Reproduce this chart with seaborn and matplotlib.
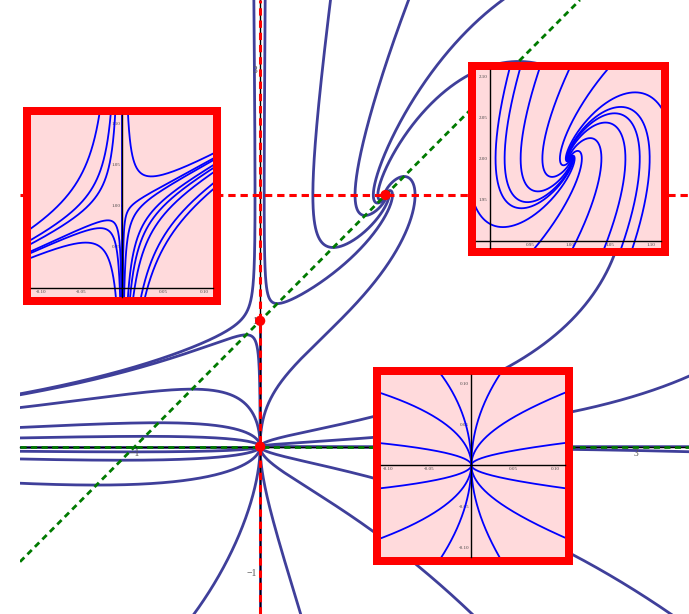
import numpy as np
import pandas as pd
import matplotlib
matplotlib.use("Agg")
import matplotlib.pyplot as plt
from matplotlib.ticker import MultipleLocator
import seaborn as sns

# phase portrait of  x' = x (y - 2),  y' = y (y - x - 1)
crit_x = [0.0, 0.0, 1.0]
crit_y = [0.0, 1.0, 2.0]

# seed points (a point on each drawn orbit)
main_seed_x = [-0.112, -0.543, -0.81, -0.918, -1.91, -1.91, -1.91,
               3.41, 3.41, 2.58, 0.64,
               -0.52, 0.32, 1.68, 3.26,
               -0.05, 0.04, 0.56, 1.18, 1.92,
               0.0, 0.0, -1.0, 2.0]
main_seed_y = [0.889, 0.457, 0.19, 0.082, -0.037, -0.098, -0.291,
               0.556, -0.04, 1.113, 1.008,
               -1.32, -1.32, -1.32, -1.32,
               3.54, 3.54, 3.54, 3.54, 3.54,
               0.5, -0.6, 0.0, 0.0]

saddle_seed_x = [-0.111, -0.111, -0.111, -0.111, -0.111, -0.111,
                 0.110, 0.110, 0.110, 0.110, 0.110,
                 0.0095, 0.0135, 0.028, 0.0, 0.0]
saddle_seed_y = [0.973, 0.959, 0.954, 0.945, 0.943, 0.937,
                 1.0626, 1.0565, 1.0544, 1.0483, 1.026,
                 0.890, 0.890, 0.890, 0.95, 1.05]

spiral_seed_x = [0.924, 0.937, 0.961, 0.998, 1.045, 0.884, 1.112,
                 0.957, 1.004, 1.043, 1.064, 1.078]
spiral_seed_y = [2.107, 2.107, 2.107, 2.107, 2.107, 1.938, 2.064,
                 1.892, 1.892, 1.892, 1.892, 1.892]

node_seed_x = [-0.107, -0.107, -0.107, -0.107, 0.111, 0.111, 0.111, 0.111,
               -0.035, 0.033, -0.035, 0.033]
node_seed_y = [0.0875, 0.0267, -0.028, -0.0887, 0.088, 0.027, -0.028, -0.088,
               0.109, 0.109, -0.111, -0.111]


def field(x, y):
    return x * (y - 2.0), y * (y - x - 1.0)


def trace(x0, y0, box, ds, nmax=6000):
    halves = []
    for sgn in (1.0, -1.0):
        def f(x, y):
            u, v = field(x, y)
            n = (u * u + v * v) ** 0.5
            if n < 1e-14:
                return 0.0, 0.0
            return sgn * u / n, sgn * v / n
        x, y = x0, y0
        pts = [(x, y)]
        for _ in range(nmax):
            a1, b1 = f(x, y)
            a2, b2 = f(x + ds / 2 * a1, y + ds / 2 * b1)
            a3, b3 = f(x + ds / 2 * a2, y + ds / 2 * b2)
            a4, b4 = f(x + ds * a3, y + ds * b3)
            x += ds / 6 * (a1 + 2 * a2 + 2 * a3 + a4)
            y += ds / 6 * (b1 + 2 * b2 + 2 * b3 + b4)
            pts.append((x, y))
            if not (box[0] <= x <= box[1] and box[2] <= y <= box[3]):
                break
            if min(abs(x - cx) + abs(y - cy) for cx, cy in zip(crit_x, crit_y)) < ds:
                break
        halves.append(pts)
    return halves[1][::-1] + halves[0][1:]


def orbits(xs, ys, box, ds):
    frames = []
    for i, (x0, y0) in enumerate(zip(xs, ys)):
        p = np.array(trace(x0, y0, box, ds))
        frames.append(pd.DataFrame({"x": p[:, 0], "y": p[:, 1], "k": i}))
    return pd.concat(frames, ignore_index=True)


sns.set_style("white")
plt.rcParams["font.family"] = ["Liberation Serif", "DejaVu Serif"]

W, H = 689, 614
fig = plt.figure(figsize=(W / 100, H / 100), dpi=100)


def fig_rect(x0, y0, x1, y1):
    return [x0 / W, 1 - y1 / H, (x1 - x0) / W, (y1 - y0) / H]


# ---- main phase portrait
ax = fig.add_axes(fig_rect(20, 0, 689, 614))
ax.set_zorder(0)
ax.set_axisbelow(False)
xlim = (-1.915, 3.42)
ylim = (-1.33, 3.55)
df = orbits(main_seed_x, main_seed_y, (xlim[0] - 0.1, xlim[1] + 0.1, ylim[0] - 0.1, ylim[1] + 0.1), 0.003)
sns.lineplot(data=df, x="x", y="y", units="k", estimator=None, sort=False,
             color="#3f3f9a", lw=2.0, ax=ax, legend=False, zorder=1.5)
ax.axvline(0, color="red", lw=2.2, ls=(0, (2.4, 1.6)), zorder=3)
ax.axhline(2, color="red", lw=2.2, ls=(0, (2.4, 1.6)), zorder=3)
ax.axhline(0, color="#007a00", lw=2.0, ls=(0, (2.2, 1.6)), zorder=3)
ax.axline((0, 1), slope=1, color="#007a00", lw=2.0, ls=(0, (2.2, 1.6)), zorder=3)
sns.scatterplot(x=crit_x, y=crit_y, color="red", s=55, edgecolor="none", ax=ax, zorder=4)

ax.set_xlim(xlim)
ax.set_ylim(ylim)
ax.set_xlabel("")
ax.set_ylabel("")
for s in ("top", "right"):
    ax.spines[s].set_visible(False)
for s in ("left", "bottom"):
    ax.spines[s].set_position("zero")
    ax.spines[s].set_color("black")
    ax.spines[s].set_linewidth(1.0)
ax.set_xticks([-1, 1, 2, 3], ["\u22121", "1", "2", "3"])
ax.set_yticks([-1, 1, 2, 3], ["\u22121", "1", "", "3"])
ax.xaxis.set_minor_locator(MultipleLocator(0.2))
ax.yaxis.set_minor_locator(MultipleLocator(0.2))
ax.tick_params(which="both", direction="in", color="black", width=0.8,
               labelsize=7, labelcolor="#555555", pad=2)
ax.tick_params(which="major", length=4)
ax.tick_params(which="minor", length=2.5)
ax.patch.set_alpha(0)


# ---- zoomed insets
def inset(inner, xl, yl, cross, xt, yt, xs, ys, z):
    x0, y0, x1, y1 = inner
    b = 8
    frame = fig.add_axes(fig_rect(x0 - b, y0 - b, x1 + b, y1 + b))
    frame.set_facecolor("red")
    frame.set_xticks([])
    frame.set_yticks([])
    for s in frame.spines.values():
        s.set_visible(False)
    frame.set_zorder(z)
    a = fig.add_axes(fig_rect(x0, y0, x1, y1))
    a.set_zorder(z + 1)
    a.set_facecolor("#ffdadc")
    d = orbits(xs, ys, (xl[0] - 0.01, xl[1] + 0.01, yl[0] - 0.01, yl[1] + 0.01), 0.0004)
    sns.lineplot(data=d, x="x", y="y", units="k", estimator=None, sort=False,
                 color="#0000ff", lw=1.3, ax=a, legend=False)
    a.set_xlim(xl)
    a.set_ylim(yl)
    a.set_xlabel("")
    a.set_ylabel("")
    for s in ("top", "right"):
        a.spines[s].set_visible(False)
    a.spines["left"].set_position(("data", cross[0]))
    a.spines["bottom"].set_position(("data", cross[1]))
    for s in ("left", "bottom"):
        a.spines[s].set_color("black")
        a.spines[s].set_linewidth(1.0)
        a.spines[s].set_zorder(3)
    a.set_xticks(xt, [f"{v:.2f}" for v in xt])
    a.set_yticks(yt, [f"{v:.2f}" for v in yt])
    a.xaxis.set_minor_locator(MultipleLocator(0.01))
    a.yaxis.set_minor_locator(MultipleLocator(0.01))
    a.tick_params(which="both", direction="in", color="black", width=0.6,
                  labelsize=3.6, labelcolor="#444444", pad=1.5)
    a.tick_params(which="major", length=3)
    a.tick_params(which="minor", length=1.6)
    return a


inset((31, 115, 213, 297), (-0.112, 0.111), (0.889, 1.110), (0.0, 0.90),
      [-0.10, -0.05, 0.05, 0.10], [0.95, 1.00, 1.05, 1.10],
      saddle_seed_x, saddle_seed_y, 5)
inset((476, 70, 661, 248), (0.883, 1.113), (1.891, 2.108), (0.90, 1.90),
      [0.95, 1.00, 1.05, 1.10], [1.95, 2.00, 2.05, 2.10],
      spiral_seed_x, spiral_seed_y, 7)
inset((381, 375, 565, 557), (-0.108, 0.112), (-0.112, 0.110), (0.0, 0.0),
      [-0.10, -0.05, 0.05, 0.10], [-0.10, -0.05, 0.05, 0.10],
      node_seed_x, node_seed_y, 9)

fig.savefig("out.png", dpi=100)
